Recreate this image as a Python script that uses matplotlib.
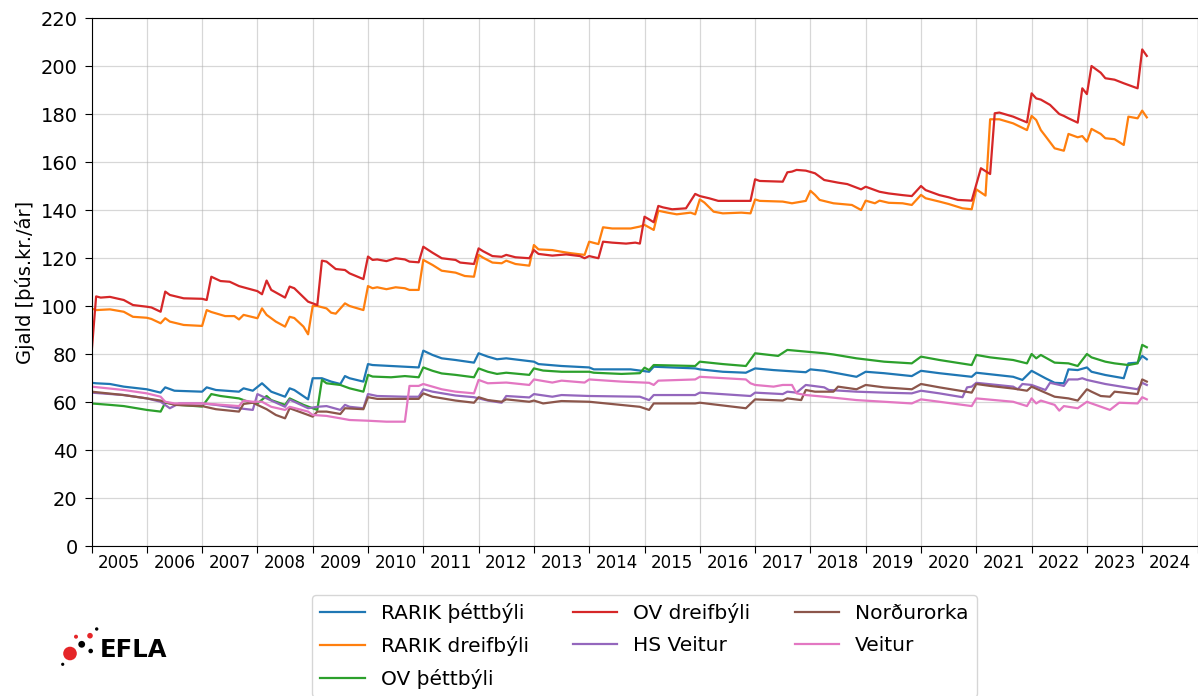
import numpy as np
import matplotlib
matplotlib.use("Agg")
import matplotlib.pyplot as plt
from matplotlib.patches import Circle

# months counted from January 2005, values in þús.kr./ár
rarik_thett_m = [0, 1, 4, 7, 12, 15, 16, 18, 24, 25, 27, 32, 33, 35, 37, 39, 42, 43, 44, 47, 48, 50, 52, 54, 55,
                 56, 59, 60, 61, 65, 68, 71, 72, 74, 76, 79, 83, 84, 86, 88, 90, 96, 97, 102, 108, 109, 117, 121,
                 122, 131, 132, 137, 142, 144, 148, 155, 156, 159, 166, 168, 172, 178, 180, 184, 191, 192, 200,
                 202, 204, 207, 209, 211, 212, 214, 216, 217, 220, 224, 225, 227, 228, 229]
rarik_thett = [68, 67.8, 67.5, 66.4, 65.3, 63.9, 66.1, 64.7, 64.3, 66.1, 65, 64.3, 65.7, 64.7, 67.8, 64.3, 62.2,
               65.7, 65, 61.1, 69.9, 69.9, 68.5, 67.5, 70.8, 69.9, 68.5, 75.8, 75.4, 75, 74.7, 74.4, 81.4, 79.6,
               78.2, 77.5, 76.4, 80.3, 78.9, 77.8, 78.2, 76.8, 75.8, 75, 74.4, 73.6, 73.6, 72.6, 74.7, 74, 73.6,
               72.6, 72.2, 74, 73.3, 72.4, 73.6, 73, 70.5, 72.6, 72, 70.8, 73, 72, 70.5, 72.2, 70.5, 69.2, 73,
               69.9, 68, 67.8, 73.6, 73.3, 74.4, 72.6, 71.25, 69.9, 76.1, 76.4, 79.2, 77.8]

rarik_dreif_m = [0, 1, 4, 7, 9, 12, 13, 15, 16, 17, 20, 24, 25, 26, 29, 31, 32, 33, 36, 37, 38, 40, 42, 43, 44,
                 46, 47, 48, 49, 51, 52, 53, 55, 56, 59, 60, 61, 62, 64, 66, 68, 69, 71, 72, 74, 76, 79, 81, 83,
                 84, 85, 87, 89, 90, 92, 95, 96, 97, 100, 102, 104, 107, 108, 110, 111, 113, 117, 119, 120, 122,
                 123, 125, 127, 130, 131, 132, 133, 135, 137, 141, 143, 144, 145, 150, 152, 155, 156, 157, 158,
                 161, 165, 167, 168, 170, 171, 173, 176, 178, 180, 181, 184, 186, 189, 191, 192, 194, 195, 197,
                 200, 203, 204, 205, 206, 207, 209, 211, 212, 214, 215, 216, 217, 219, 220, 222, 224, 225, 227,
                 228, 229]
rarik_dreif = [99, 98.3, 98.6, 97.6, 95.5, 95.1, 94.6, 92.8, 94.9, 93.5, 92.1, 91.7, 98.3, 97.5, 95.8, 95.8,
               94.4, 96.3, 94.9, 99, 96.3, 93.5, 91.4, 95.5, 95, 91.4, 88.2, 100, 100, 99, 97.2, 96.8, 101.1,
               100, 98.3, 108.3, 107.4, 107.8, 107, 107.8, 107.4, 106.7, 106.7, 119.2, 117.1, 114.7, 113.9,
               112.5, 112.2, 121.3, 120.1, 118.1, 117.8, 118.9, 117.5, 116.8, 125.4, 123.6, 123.3, 122.6, 122,
               121.3, 126.8, 125.8, 132.8, 132.3, 132.3, 133.1, 133.8, 131.7, 139.7, 138.9, 138.2, 138.9, 138.2,
               144.4, 143.1, 139.3, 138.6, 138.9, 138.6, 144.4, 143.8, 143.5, 142.8, 143.8, 148, 146.3, 144.2,
               142.8, 142.1, 140, 143.9, 142.8, 143.9, 143, 142.8, 142.1, 146.3, 144.9, 143.5, 142.5, 140.7,
               140.3, 148.6, 146, 177.8, 177.8, 176.1, 173.3, 179.2, 177.5, 173.3, 170.8, 165.7, 164.7, 171.7,
               170.3, 170.8, 168.5, 173.8, 171.7, 169.9, 169.5, 167.1, 178.9, 178.2, 181.4, 178.6]

ov_thett_m = [0, 4, 7, 12, 15, 16, 19, 24, 26, 28, 32, 34, 36, 38, 39, 42, 43, 46, 49, 50, 51, 54, 56, 59, 60,
              61, 65, 68, 71, 72, 74, 76, 79, 83, 84, 86, 88, 90, 95, 96, 98, 102, 108, 109, 115, 119, 120, 121,
              122, 131, 132, 137, 142, 144, 149, 151, 155, 159, 161, 166, 172, 178, 180, 184, 191, 192, 195,
              200, 203, 204, 205, 206, 209, 212, 214, 216, 217, 220, 222, 225, 227, 228, 229]
ov_thett = [59.4, 58.8, 58.3, 56.7, 56, 59.7, 58.8, 58.1, 63.3, 62.5, 61.5, 60.1, 59.4, 62.5, 60.8, 58.8, 61.5,
            58.8, 56.7, 69.2, 67.8, 67.1, 65.7, 64.3, 71.3, 70.6, 70.3, 70.8, 70.3, 74.4, 73, 71.9, 71.3, 70.3,
            74, 72.6, 71.7, 72.2, 71.3, 74, 73.1, 72.6, 72.6, 72.2, 71.7, 72, 74.3, 73.3, 75.4, 75, 76.8, 75.8,
            75, 80.3, 79.2, 81.7, 81, 80.3, 79.8, 78.2, 76.8, 76.1, 78.9, 77.5, 75.4, 79.6, 78.6, 77.5, 76.1,
            80, 78.2, 79.6, 76.4, 76.1, 75, 80, 78.6, 76.8, 76.1, 75.4, 76.1, 83.8, 82.8]

ov_dreif_m = [0, 1, 2, 4, 7, 9, 12, 13, 15, 16, 17, 20, 24, 25, 26, 28, 30, 32, 35, 36, 37, 38, 39, 42, 43, 44,
              47, 49, 50, 51, 53, 55, 56, 59, 60, 61, 62, 64, 66, 68, 69, 71, 72, 74, 76, 79, 80, 83, 84, 85,
              87, 89, 90, 92, 95, 96, 97, 100, 103, 106, 107, 108, 110, 111, 113, 116, 118, 119, 120, 121, 122,
              123, 124, 126, 129, 131, 132, 134, 136, 141, 143, 144, 145, 150, 151, 152, 153, 155, 157, 159,
              162, 164, 167, 168, 171, 173, 176, 178, 180, 181, 184, 186, 188, 191, 193, 195, 196, 197, 200,
              203, 204, 205, 206, 208, 210, 211, 212, 214, 215, 216, 217, 219, 220, 222, 224, 227, 228, 229]
ov_dreif = [80, 104, 103.5, 103.8, 102.5, 100.4, 99.7, 99.4, 97.6, 106, 104.6, 103.2, 103, 102.5, 112.2, 110.4,
            110.1, 108.3, 106.7, 106.2, 104.9, 110.6, 106.7, 103.5, 108.1, 107.4, 101.8, 100.4, 118.9, 118.5,
            115.4, 115, 113.6, 111.2, 120.6, 119.2, 119.4, 118.7, 119.9, 119.4, 118.5, 118.2, 124.7, 122.2,
            119.9, 119.2, 118.1, 117.5, 124, 122.8, 120.8, 120.5, 121.3, 120.3, 119.9, 123.3, 121.7, 121,
            121.5, 120.8, 119.9, 120.8, 119.9, 126.8, 126.4, 126, 126.4, 126, 137.2, 136.1, 134.9, 141.7,
            141.1, 140.3, 140.7, 146.7, 145.8, 144.9, 143.8, 143.8, 143.8, 152.8, 152.1, 151.8, 155.7, 156,
            156.7, 156.4, 155.3, 152.5, 151.4, 150.8, 148.6, 149.7, 147.6, 146.9, 146.2, 145.8, 150, 148.3,
            146.2, 145.3, 144.2, 143.9, 157.4, 155, 180.3, 180.6, 178.9, 176.5, 188.6, 186.5, 186, 183.8, 180,
            179.2, 178.2, 176.4, 190.7, 188.3, 200, 197.2, 194.9, 194.3, 192.8, 190.7, 206.9, 204.2]

hs_m = [0, 7, 12, 15, 17, 19, 24, 27, 32, 35, 36, 38, 42, 43, 47, 49, 51, 54, 55, 56, 59, 60, 62, 68, 71, 72,
        74, 79, 83, 84, 86, 89, 90, 95, 96, 100, 102, 108, 119, 121, 122, 131, 132, 143, 144, 150, 151, 153,
        155, 159, 160, 166, 172, 178, 180, 184, 189, 190, 191, 192, 200, 201, 202, 204, 207, 208, 211, 212,
        214, 215, 216, 220, 227, 228, 229]
hs = [63.9, 62.9, 61.5, 60.1, 57.4, 59.4, 59.4, 58.8, 57.4, 56.7, 63.3, 61.5, 58, 61, 57.4, 58, 58.3, 56.7,
      58.8, 58, 57.4, 63.3, 62.5, 62.2, 62.2, 65.3, 64.3, 62.7, 62, 61.5, 60.6, 59.7, 62.5, 61.9, 63.3, 62.2,
      62.9, 62.5, 62.2, 60.8, 62.9, 62.9, 63.9, 62.5, 63.9, 63.3, 64.3, 63.9, 67.1, 66.1, 65, 64.3, 63.9,
      63.6, 64.7, 63.6, 62, 66.1, 66.4, 68, 66.4, 65.3, 67.5, 67.1, 65, 68, 66.7, 69.4, 69.4, 69.9, 69.2,
      67.5, 65.3, 68, 67.1]

nordurorka_m = [0, 7, 12, 15, 18, 24, 27, 32, 33, 35, 38, 40, 42, 43, 46, 48, 49, 51, 54, 55, 59, 60, 62, 71,
                72, 74, 79, 83, 84, 86, 89, 90, 95, 96, 98, 102, 108, 119, 121, 122, 131, 132, 142, 144, 150,
                151, 154, 155, 157, 161, 162, 166, 168, 172, 178, 180, 184, 191, 192, 195, 200, 203, 204, 206,
                209, 212, 214, 216, 217, 219, 221, 222, 227, 228, 229]
nordurorka = [64.3, 62.9, 61.5, 60.6, 58.8, 58.3, 57, 56, 59.2, 59.7, 57, 54.6, 53.2, 57.4, 55.3, 53.9, 56, 56,
              55, 57.4, 57, 62, 61.3, 61.3, 63.6, 62.2, 60.6, 59.7, 62, 60.8, 60.1, 61.1, 60.1, 60.6, 59.4,
              60.4, 60.1, 58, 56.7, 59.4, 59.4, 59.7, 57.4, 61.1, 60.6, 61.5, 60.8, 65, 64.3, 64.3, 66.4,
              65.3, 67.1, 66.1, 65.3, 67.5, 66.1, 63.9, 67.5, 66.7, 65.6, 64.7, 66.4, 64.7, 62.2, 61.5, 60.6,
              65.3, 64.3, 62.5, 62.2, 64.3, 63.3, 69.4, 68.5]

veitur_m = [0, 7, 12, 15, 16, 18, 24, 27, 32, 33, 35, 37, 39, 42, 43, 47, 48, 51, 54, 56, 60, 64, 68, 69, 71,
            72, 74, 76, 79, 83, 84, 86, 90, 95, 96, 100, 102, 107, 108, 115, 121, 122, 123, 131, 132, 142, 143,
            144, 148, 150, 152, 153, 155, 159, 166, 172, 178, 180, 184, 191, 192, 200, 203, 204, 205, 206,
            209, 210, 211, 214, 216, 217, 221, 223, 227, 228, 229]
veitur = [66.4, 65, 63.6, 62.2, 60.1, 59.4, 59.4, 59, 58.3, 60.6, 60.1, 60.1, 58, 56.7, 58, 56, 54.6, 54.2,
          53.2, 52.5, 52.2, 51.8, 51.8, 66.7, 66.7, 67.5, 66.4, 65.3, 64.3, 63.6, 69.2, 67.8, 68.1, 67.1,
          69.4, 68.1, 68.9, 68.1, 69.4, 68.5, 68, 67.1, 68.9, 69.4, 70.5, 69.4, 67.8, 67.1, 66.4, 67.1, 67.1,
          63.6, 62.9, 62.2, 60.8, 60.1, 59.4, 61.1, 60.1, 58.3, 61.5, 60.1, 58.3, 61.5, 59.4, 60.6, 58.8,
          56.4, 58.3, 57.4, 60.1, 59.4, 56.7, 59.7, 59.4, 62, 61.1]

series = [
    ("RARIK þéttbýli", rarik_thett_m, rarik_thett),
    ("RARIK dreifbýli", rarik_dreif_m, rarik_dreif),
    ("OV þéttbýli", ov_thett_m, ov_thett),
    ("OV dreifbýli", ov_dreif_m, ov_dreif),
    ("HS Veitur", hs_m, hs),
    ("Norðurorka", nordurorka_m, nordurorka),
    ("Veitur", veitur_m, veitur),
]
years = np.arange(2005, 2026)

fig = plt.figure(figsize=(11.98, 6.96), dpi=100)
ax = fig.add_axes([91.5 / 1198, 150 / 696, 1106 / 1198, 528 / 696])

for label, months, vals in series:
    ax.plot(2005 + np.array(months) / 12, vals, lw=1.6, label=label)

ax.set_xlim(2005, 2025)
ax.set_ylim(0, 220)
ax.set_yticks(np.arange(0, 221, 20))
ax.tick_params(axis="y", labelsize=14, length=5, pad=5)

ax.set_xticks(years)
ax.set_xticklabels([])
ax.set_xticks(years[:-1] + 0.5, minor=True)
ax.set_xticklabels([str(y) for y in years[:-1]], minor=True, fontsize=12)
ax.tick_params(axis="x", which="major", length=5)
ax.tick_params(axis="x", which="minor", length=0, pad=6)
ax.grid(True, which="major", color="#b0b0b0", alpha=0.5, lw=0.9)
ax.set_ylabel("Gjald [þús.kr./ár]", fontsize=14)

ax.legend(loc="upper center", bbox_to_anchor=(0.5, -0.092), ncol=3, fontsize=14.5,
          borderaxespad=0, columnspacing=2.2, handlelength=2.2, labelspacing=0.65)

# EFLA logo
lax = fig.add_axes([40 / 1198, 21 / 696, 140 / 1198, 60 / 696])
lax.set_xlim(40, 180)
lax.set_ylim(675, 615)
lax.axis("off")
for cx, cy, r, col in [(70, 653.5, 6.8, "#e52528"), (76, 636.7, 2.0, "#e52528"), (90, 635.7, 2.8, "#e52528"),
                       (81.7, 644.3, 3.4, "black"), (96.7, 629, 1.7, "black"), (90.7, 651, 2.3, "black"),
                       (62.7, 664.3, 1.6, "black")]:
    lax.add_patch(Circle((cx, cy), r, color=col, lw=0))
lax.text(100, 650, "EFLA", fontsize=17.5, fontweight="bold", ha="left", va="center")

fig.savefig("out.png", dpi=100)
